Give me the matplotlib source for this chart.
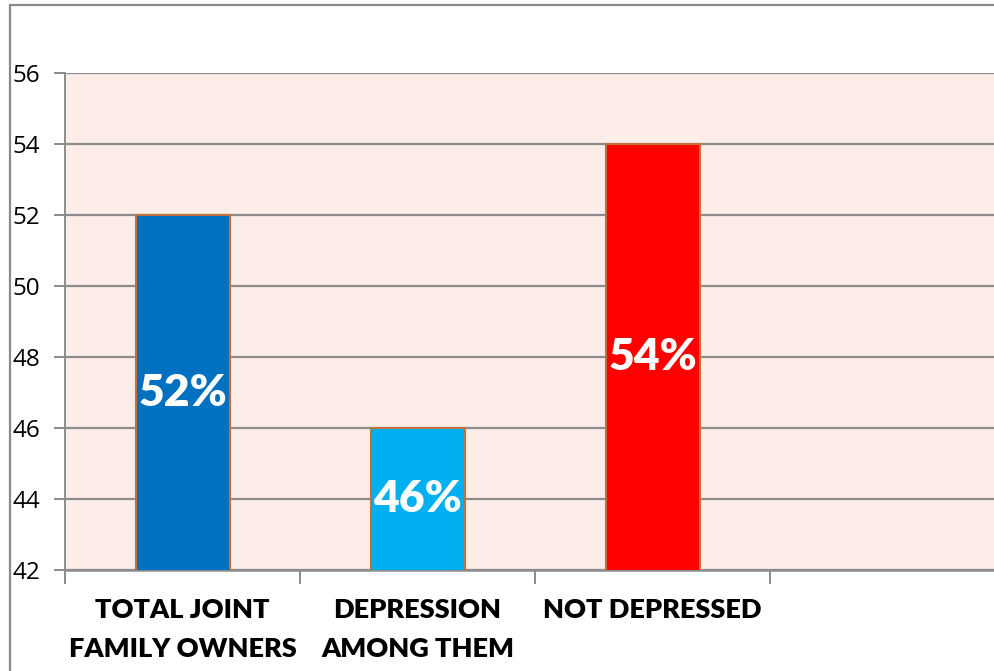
import matplotlib.pyplot as plt
from matplotlib.patches import Rectangle

categories = ['TOTAL JOINT\nFAMILY OWNERS', 'DEPRESSION\nAMONG THEM', 'NOT DEPRESSED', '']
values = [52, 46, 54]
labels = ['52%', '46%', '54%']
colors = ['#0070C0', '#00B0F0', '#FF0000']
yticks = [42, 44, 46, 48, 50, 52, 54, 56]

W, H = 995, 671
fig = plt.figure(figsize=(W / 100, H / 100), dpi=100)

# outer chart frame (cropped on right and bottom)
fig.patches.append(Rectangle((10 / W, -0.1), 1.2, (H - 5) / H + 0.1,
                             transform=fig.transFigure, fill=False,
                             edgecolor='#8a8a8a', linewidth=1.6))

ax = fig.add_axes([65 / W, (H - 570) / H, 940 / W, (570 - 73) / H])
ax.set_facecolor('#FCEDE8')
ax.set_xlim(-0.5, 3.5)
ax.set_ylim(42, 56)

x = range(len(values))
bars = ax.bar(x, values, width=0.4, bottom=0, color=colors,
              edgecolor='#C0703A', linewidth=1.5, zorder=3)

for xi, v, lab in zip(x, values, labels):
    ax.text(xi, (42 + v) / 2, lab, ha='center', va='center', color='white',
            fontsize=32, fontweight='heavy', family='Lato', zorder=4)

ax.set_yticks(yticks)
ax.set_yticklabels([str(t) for t in yticks], fontsize=17.5, family='Open Sans')
ax.yaxis.grid(True, color='#8c8c8c', linewidth=1.6, zorder=1)
ax.tick_params(axis='y', length=8, width=1.4, color='#8c8c8c', pad=10)

ax.set_xticks([-0.5, 0.5, 1.5, 2.5])
ax.set_xticklabels([])
ax.set_xticks([0, 1, 2], minor=True)
ax.set_xticklabels(categories[:3], minor=True, fontsize=19.5, fontweight='heavy',
                   family='Lato', linespacing=1.75)
ax.tick_params(axis='x', which='major', length=10, width=1.4, color='#8c8c8c')
ax.tick_params(axis='x', which='minor', length=0, pad=20)

for s in ['top', 'right']:
    ax.spines[s].set_visible(False)
ax.spines['left'].set_color('#8c8c8c')
ax.spines['left'].set_linewidth(1.4)
ax.spines['bottom'].set_color('#8c8c8c')
ax.spines['bottom'].set_linewidth(1.8)
ax.set_axisbelow(True)

fig.savefig('out.png', dpi=100)
